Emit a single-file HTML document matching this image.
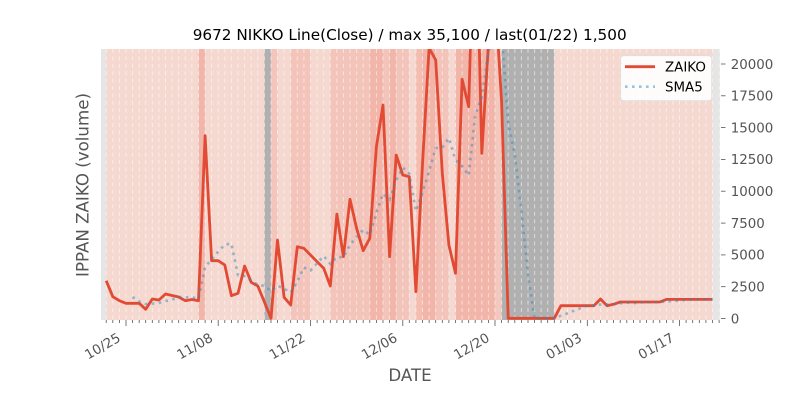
<!DOCTYPE html>
<html>
<head>
<meta charset="utf-8">
<style>
html,body{margin:0;padding:0;background:#fff;}
svg{display:block;}
text{font-family:"DejaVu Sans","Liberation Sans",sans-serif;}
</style>
</head>
<body>
<svg width="800" height="400" viewBox="0 0 800 400" xmlns="http://www.w3.org/2000/svg">
<defs>
<clipPath id="ax"><rect x="101" y="49" width="619" height="271"/></clipPath>
</defs>
<rect x="0" y="0" width="800" height="400" fill="#ffffff"/>
<!-- axes background -->
<rect x="101" y="49" width="619" height="271" fill="#e5e5e5"/>
<!-- day spans -->
<g>
<rect x="106.2" y="49" width="92.3" height="271" fill="#f5d8d0"/>
<rect x="198.5" y="49" width="6.6" height="271" fill="#f2b5aa"/>
<rect x="205.1" y="49" width="59.3" height="271" fill="#f5d8d0"/>
<rect x="264.4" y="49" width="6.6" height="271" fill="#b0b0b0"/>
<rect x="271.0" y="49" width="6.5" height="271" fill="#f3c5bb"/>
<rect x="277.5" y="49" width="13.2" height="271" fill="#f5d8d0"/>
<rect x="290.7" y="49" width="19.8" height="271" fill="#f3c4ba"/>
<rect x="310.5" y="49" width="19.8" height="271" fill="#f5d8d0"/>
<rect x="330.3" y="49" width="39.5" height="271" fill="#f3c4ba"/>
<rect x="369.8" y="49" width="13.2" height="271" fill="#f2b5aa"/>
<rect x="383.0" y="49" width="6.6" height="271" fill="#f3c4ba"/>
<rect x="389.6" y="49" width="6.6" height="271" fill="#f2b5aa"/>
<rect x="396.2" y="49" width="13.1" height="271" fill="#f3c4ba"/>
<rect x="409.3" y="49" width="6.6" height="271" fill="#f5d8d0"/>
<rect x="415.9" y="49" width="6.6" height="271" fill="#f3bdb2"/>
<rect x="422.5" y="49" width="13.2" height="271" fill="#f2b5aa"/>
<rect x="435.7" y="49" width="13.2" height="271" fill="#f3c4ba"/>
<rect x="448.9" y="49" width="6.6" height="271" fill="#f5d8d0"/>
<rect x="455.5" y="49" width="39.5" height="271" fill="#f2b5aa"/>
<rect x="495.0" y="49" width="6.6" height="271" fill="#f3c8be"/>
<rect x="501.6" y="49" width="52.7" height="271" fill="#b0b0b0"/>
<rect x="554.3" y="49" width="158.2" height="271" fill="#f5d8d0"/>
</g>
<!-- vertical dashed gridlines (daily) -->
<g stroke="#ffffff" stroke-opacity="0.55" stroke-width="1" stroke-dasharray="4 3.4">
<line x1="106.2" y1="49" x2="106.2" y2="320"/><line x1="112.8" y1="49" x2="112.8" y2="320"/><line x1="119.4" y1="49" x2="119.4" y2="320"/><line x1="126.0" y1="49" x2="126.0" y2="320"/><line x1="132.6" y1="49" x2="132.6" y2="320"/><line x1="139.2" y1="49" x2="139.2" y2="320"/><line x1="145.7" y1="49" x2="145.7" y2="320"/><line x1="152.3" y1="49" x2="152.3" y2="320"/><line x1="158.9" y1="49" x2="158.9" y2="320"/><line x1="165.5" y1="49" x2="165.5" y2="320"/><line x1="172.1" y1="49" x2="172.1" y2="320"/><line x1="178.7" y1="49" x2="178.7" y2="320"/><line x1="185.3" y1="49" x2="185.3" y2="320"/><line x1="191.9" y1="49" x2="191.9" y2="320"/><line x1="198.5" y1="49" x2="198.5" y2="320"/><line x1="205.1" y1="49" x2="205.1" y2="320"/><line x1="211.6" y1="49" x2="211.6" y2="320"/><line x1="218.2" y1="49" x2="218.2" y2="320"/><line x1="224.8" y1="49" x2="224.8" y2="320"/><line x1="231.4" y1="49" x2="231.4" y2="320"/><line x1="238.0" y1="49" x2="238.0" y2="320"/><line x1="244.6" y1="49" x2="244.6" y2="320"/><line x1="251.2" y1="49" x2="251.2" y2="320"/><line x1="257.8" y1="49" x2="257.8" y2="320"/><line x1="264.4" y1="49" x2="264.4" y2="320"/><line x1="271.0" y1="49" x2="271.0" y2="320"/><line x1="277.5" y1="49" x2="277.5" y2="320"/><line x1="284.1" y1="49" x2="284.1" y2="320"/><line x1="290.7" y1="49" x2="290.7" y2="320"/><line x1="297.3" y1="49" x2="297.3" y2="320"/><line x1="303.9" y1="49" x2="303.9" y2="320"/><line x1="310.5" y1="49" x2="310.5" y2="320"/><line x1="317.1" y1="49" x2="317.1" y2="320"/><line x1="323.7" y1="49" x2="323.7" y2="320"/><line x1="330.3" y1="49" x2="330.3" y2="320"/><line x1="336.9" y1="49" x2="336.9" y2="320"/><line x1="343.4" y1="49" x2="343.4" y2="320"/><line x1="350.0" y1="49" x2="350.0" y2="320"/><line x1="356.6" y1="49" x2="356.6" y2="320"/><line x1="363.2" y1="49" x2="363.2" y2="320"/><line x1="369.8" y1="49" x2="369.8" y2="320"/><line x1="376.4" y1="49" x2="376.4" y2="320"/><line x1="383.0" y1="49" x2="383.0" y2="320"/><line x1="389.6" y1="49" x2="389.6" y2="320"/><line x1="396.2" y1="49" x2="396.2" y2="320"/><line x1="402.8" y1="49" x2="402.8" y2="320"/><line x1="409.3" y1="49" x2="409.3" y2="320"/><line x1="415.9" y1="49" x2="415.9" y2="320"/><line x1="422.5" y1="49" x2="422.5" y2="320"/><line x1="429.1" y1="49" x2="429.1" y2="320"/><line x1="435.7" y1="49" x2="435.7" y2="320"/><line x1="442.3" y1="49" x2="442.3" y2="320"/><line x1="448.9" y1="49" x2="448.9" y2="320"/><line x1="455.5" y1="49" x2="455.5" y2="320"/><line x1="462.1" y1="49" x2="462.1" y2="320"/><line x1="468.7" y1="49" x2="468.7" y2="320"/><line x1="475.2" y1="49" x2="475.2" y2="320"/><line x1="481.8" y1="49" x2="481.8" y2="320"/><line x1="488.4" y1="49" x2="488.4" y2="320"/><line x1="495.0" y1="49" x2="495.0" y2="320"/><line x1="501.6" y1="49" x2="501.6" y2="320"/><line x1="508.2" y1="49" x2="508.2" y2="320"/><line x1="514.8" y1="49" x2="514.8" y2="320"/><line x1="521.4" y1="49" x2="521.4" y2="320"/><line x1="528.0" y1="49" x2="528.0" y2="320"/><line x1="534.6" y1="49" x2="534.6" y2="320"/><line x1="541.1" y1="49" x2="541.1" y2="320"/><line x1="547.7" y1="49" x2="547.7" y2="320"/><line x1="554.3" y1="49" x2="554.3" y2="320"/><line x1="560.9" y1="49" x2="560.9" y2="320"/><line x1="567.5" y1="49" x2="567.5" y2="320"/><line x1="574.1" y1="49" x2="574.1" y2="320"/><line x1="580.7" y1="49" x2="580.7" y2="320"/><line x1="587.3" y1="49" x2="587.3" y2="320"/><line x1="593.9" y1="49" x2="593.9" y2="320"/><line x1="600.5" y1="49" x2="600.5" y2="320"/><line x1="607.0" y1="49" x2="607.0" y2="320"/><line x1="613.6" y1="49" x2="613.6" y2="320"/><line x1="620.2" y1="49" x2="620.2" y2="320"/><line x1="626.8" y1="49" x2="626.8" y2="320"/><line x1="633.4" y1="49" x2="633.4" y2="320"/><line x1="640.0" y1="49" x2="640.0" y2="320"/><line x1="646.6" y1="49" x2="646.6" y2="320"/><line x1="653.2" y1="49" x2="653.2" y2="320"/><line x1="659.8" y1="49" x2="659.8" y2="320"/><line x1="666.4" y1="49" x2="666.4" y2="320"/><line x1="673.0" y1="49" x2="673.0" y2="320"/><line x1="679.5" y1="49" x2="679.5" y2="320"/><line x1="686.1" y1="49" x2="686.1" y2="320"/><line x1="692.7" y1="49" x2="692.7" y2="320"/><line x1="699.3" y1="49" x2="699.3" y2="320"/><line x1="705.9" y1="49" x2="705.9" y2="320"/><line x1="712.5" y1="49" x2="712.5" y2="320"/><line x1="719.1" y1="49" x2="719.1" y2="320"/>
</g>
<!-- series -->
<g clip-path="url(#ax)">
<polyline fill="none" stroke="#E24A33" stroke-width="2.8" stroke-linejoin="round" stroke-linecap="butt" points="106.2,280.7 112.8,296.7 119.4,300.7 126.0,303.3 132.6,303.3 139.2,303.3 145.7,309.3 152.3,299 158.9,300 165.5,294 172.1,295.5 178.7,297 185.3,300.7 191.9,299.5 198.5,300.7 205.1,135.7 211.6,260.7 218.2,260.7 224.8,265 231.4,295.7 238.0,293.3 244.6,266 251.2,282.3 257.8,286 264.4,302 271.0,318.3 277.5,240 284.1,297.3 290.7,305 297.3,246.7 303.9,248.3 310.5,255 317.1,261.7 323.7,268.3 330.3,286 336.9,214 343.4,256.7 350.0,199.3 356.6,228.3 363.2,250.7 369.8,238.3 376.4,146.7 383.0,105 389.6,256.7 396.2,155 402.8,175 409.3,176.7 415.9,291.7 422.5,164 429.1,48 435.7,60 442.3,173.3 448.9,245 455.5,273.3 462.1,79.3 468.7,106.7 475.2,-128 481.8,153.3 488.4,45 495.0,-7 501.6,102 508.2,318.3 514.8,318.3 521.4,318.3 528.0,318.3 534.6,318.3 541.1,318.3 547.7,318.3 554.3,318.3 560.9,305.7 567.5,305.7 574.1,305.7 580.7,305.7 587.3,305.7 593.9,305.7 600.5,299 607.0,305.7 613.6,304.3 620.2,302 626.8,302 633.4,302 640.0,302 646.6,302 653.2,302 659.8,302 666.4,299.4 673.0,299.4 679.5,299.4 686.1,299.4 692.7,299.4 699.3,299.4 705.9,299.4 712.5,299.4"/>
<polyline fill="none" stroke="#348ABD" stroke-opacity="0.5" stroke-width="2.6" stroke-dasharray="2.6 4.4" points="132.6,296.9 139.2,301.5 145.7,304.0 152.3,303.6 158.9,303.0 165.5,301.1 172.1,299.6 178.7,297.1 185.3,297.4 191.9,297.3 198.5,298.7 205.1,266.7 211.6,259.5 218.2,251.5 224.8,244.6 231.4,243.6 238.0,275.1 244.6,276.1 251.2,280.5 257.8,284.7 264.4,285.9 271.0,290.9 277.5,285.7 284.1,288.7 290.7,292.5 297.3,281.5 303.9,267.5 310.5,270.5 317.1,263.3 323.7,256 330.3,263.9 336.9,257 343.4,257.3 350.0,244.9 356.6,236.9 363.2,229.8 369.8,234.7 376.4,212.7 383.0,193.8 389.6,199.5 396.2,180.3 402.8,167.7 409.3,173.7 415.9,211.0 422.5,192.5 429.1,171.1 435.7,148.1 442.3,147.4 448.9,138.1 455.5,159.9 462.1,166.2 468.7,175.5 475.2,115.3 481.8,96.9 488.4,51.3 495.0,34 501.6,33.1 508.2,122.3 514.8,155.3 521.4,210 528.0,275 534.6,318.3 541.1,318.3 547.7,318.3 554.3,318.3 560.9,315.8 567.5,313.3 574.1,310.7 580.7,308.2 587.3,305.7 593.9,305.7 600.5,304.4 607.0,304.4 613.6,304.1 620.2,303.3 626.8,302.6 633.4,303.2 640.0,302.5 646.6,302 653.2,302 659.8,302 666.4,301.5 673.0,301.0 679.5,300.4 686.1,299.9 692.7,299.4 699.3,299.4 705.9,299.4 712.5,299.4"/>
</g>
<!-- legend -->
<rect x="620.7" y="55.7" width="91" height="45" rx="3" ry="3" fill="#ffffff" fill-opacity="0.9" stroke="#dddddd" stroke-width="0.8"/>
<line x1="625" y1="66.7" x2="655" y2="66.7" stroke="#E24A33" stroke-width="2.8"/>
<line x1="625" y1="86.7" x2="655" y2="86.7" stroke="#348ABD" stroke-opacity="0.5" stroke-width="2.6" stroke-dasharray="2.6 4.4"/>
<text x="665" y="71.5" font-size="13.4" fill="#000000">ZAIKO</text>
<text x="665" y="91.5" font-size="13.4" fill="#000000">SMA5</text>
<!-- x ticks -->
<g stroke="#555555" stroke-width="0.8">
<line x1="106.2" y1="320" x2="106.2" y2="323"/><line x1="112.8" y1="320" x2="112.8" y2="323"/><line x1="119.4" y1="320" x2="119.4" y2="323"/><line x1="132.6" y1="320" x2="132.6" y2="323"/><line x1="139.2" y1="320" x2="139.2" y2="323"/><line x1="145.7" y1="320" x2="145.7" y2="323"/><line x1="152.3" y1="320" x2="152.3" y2="323"/><line x1="158.9" y1="320" x2="158.9" y2="323"/><line x1="165.5" y1="320" x2="165.5" y2="323"/><line x1="172.1" y1="320" x2="172.1" y2="323"/><line x1="178.7" y1="320" x2="178.7" y2="323"/><line x1="185.3" y1="320" x2="185.3" y2="323"/><line x1="191.9" y1="320" x2="191.9" y2="323"/><line x1="198.5" y1="320" x2="198.5" y2="323"/><line x1="205.1" y1="320" x2="205.1" y2="323"/><line x1="211.6" y1="320" x2="211.6" y2="323"/><line x1="224.8" y1="320" x2="224.8" y2="323"/><line x1="231.4" y1="320" x2="231.4" y2="323"/><line x1="238.0" y1="320" x2="238.0" y2="323"/><line x1="244.6" y1="320" x2="244.6" y2="323"/><line x1="251.2" y1="320" x2="251.2" y2="323"/><line x1="257.8" y1="320" x2="257.8" y2="323"/><line x1="264.4" y1="320" x2="264.4" y2="323"/><line x1="271.0" y1="320" x2="271.0" y2="323"/><line x1="277.5" y1="320" x2="277.5" y2="323"/><line x1="284.1" y1="320" x2="284.1" y2="323"/><line x1="290.7" y1="320" x2="290.7" y2="323"/><line x1="297.3" y1="320" x2="297.3" y2="323"/><line x1="303.9" y1="320" x2="303.9" y2="323"/><line x1="317.1" y1="320" x2="317.1" y2="323"/><line x1="323.7" y1="320" x2="323.7" y2="323"/><line x1="330.3" y1="320" x2="330.3" y2="323"/><line x1="336.9" y1="320" x2="336.9" y2="323"/><line x1="343.4" y1="320" x2="343.4" y2="323"/><line x1="350.0" y1="320" x2="350.0" y2="323"/><line x1="356.6" y1="320" x2="356.6" y2="323"/><line x1="363.2" y1="320" x2="363.2" y2="323"/><line x1="369.8" y1="320" x2="369.8" y2="323"/><line x1="376.4" y1="320" x2="376.4" y2="323"/><line x1="383.0" y1="320" x2="383.0" y2="323"/><line x1="389.6" y1="320" x2="389.6" y2="323"/><line x1="396.2" y1="320" x2="396.2" y2="323"/><line x1="409.3" y1="320" x2="409.3" y2="323"/><line x1="415.9" y1="320" x2="415.9" y2="323"/><line x1="422.5" y1="320" x2="422.5" y2="323"/><line x1="429.1" y1="320" x2="429.1" y2="323"/><line x1="435.7" y1="320" x2="435.7" y2="323"/><line x1="442.3" y1="320" x2="442.3" y2="323"/><line x1="448.9" y1="320" x2="448.9" y2="323"/><line x1="455.5" y1="320" x2="455.5" y2="323"/><line x1="462.1" y1="320" x2="462.1" y2="323"/><line x1="468.7" y1="320" x2="468.7" y2="323"/><line x1="475.2" y1="320" x2="475.2" y2="323"/><line x1="481.8" y1="320" x2="481.8" y2="323"/><line x1="488.4" y1="320" x2="488.4" y2="323"/><line x1="501.6" y1="320" x2="501.6" y2="323"/><line x1="508.2" y1="320" x2="508.2" y2="323"/><line x1="514.8" y1="320" x2="514.8" y2="323"/><line x1="521.4" y1="320" x2="521.4" y2="323"/><line x1="528.0" y1="320" x2="528.0" y2="323"/><line x1="534.6" y1="320" x2="534.6" y2="323"/><line x1="541.1" y1="320" x2="541.1" y2="323"/><line x1="547.7" y1="320" x2="547.7" y2="323"/><line x1="554.3" y1="320" x2="554.3" y2="323"/><line x1="560.9" y1="320" x2="560.9" y2="323"/><line x1="567.5" y1="320" x2="567.5" y2="323"/><line x1="574.1" y1="320" x2="574.1" y2="323"/><line x1="580.7" y1="320" x2="580.7" y2="323"/><line x1="593.9" y1="320" x2="593.9" y2="323"/><line x1="600.5" y1="320" x2="600.5" y2="323"/><line x1="607.0" y1="320" x2="607.0" y2="323"/><line x1="613.6" y1="320" x2="613.6" y2="323"/><line x1="620.2" y1="320" x2="620.2" y2="323"/><line x1="626.8" y1="320" x2="626.8" y2="323"/><line x1="633.4" y1="320" x2="633.4" y2="323"/><line x1="640.0" y1="320" x2="640.0" y2="323"/><line x1="646.6" y1="320" x2="646.6" y2="323"/><line x1="653.2" y1="320" x2="653.2" y2="323"/><line x1="659.8" y1="320" x2="659.8" y2="323"/><line x1="666.4" y1="320" x2="666.4" y2="323"/><line x1="673.0" y1="320" x2="673.0" y2="323"/><line x1="686.1" y1="320" x2="686.1" y2="323"/><line x1="692.7" y1="320" x2="692.7" y2="323"/><line x1="699.3" y1="320" x2="699.3" y2="323"/><line x1="705.9" y1="320" x2="705.9" y2="323"/><line x1="712.5" y1="320" x2="712.5" y2="323"/><line x1="719.1" y1="320" x2="719.1" y2="323"/>
<line x1="126.0" y1="320" x2="126.0" y2="326"/><line x1="218.2" y1="320" x2="218.2" y2="326"/><line x1="310.5" y1="320" x2="310.5" y2="326"/><line x1="402.8" y1="320" x2="402.8" y2="326"/><line x1="495.0" y1="320" x2="495.0" y2="326"/><line x1="587.3" y1="320" x2="587.3" y2="326"/><line x1="679.5" y1="320" x2="679.5" y2="326"/>
</g>
<g font-size="13.4" fill="#555555" text-anchor="end">
<text transform="translate(121.5,340.5) rotate(-30)">10/25</text>
<text transform="translate(213.7,340.5) rotate(-30)">11/08</text>
<text transform="translate(306,340.5) rotate(-30)">11/22</text>
<text transform="translate(398.3,340.5) rotate(-30)">12/06</text>
<text transform="translate(490.5,340.5) rotate(-30)">12/20</text>
<text transform="translate(582.8,340.5) rotate(-30)">01/03</text>
<text transform="translate(675,340.5) rotate(-30)">01/17</text>
</g>
<!-- y ticks (right) -->
<g stroke="#555555" stroke-width="0.8">
<line x1="721" y1="318.5" x2="725.5" y2="318.5"/>
<line x1="721" y1="286.7" x2="725.5" y2="286.7"/>
<line x1="721" y1="254.9" x2="725.5" y2="254.9"/>
<line x1="721" y1="223.1" x2="725.5" y2="223.1"/>
<line x1="721" y1="191.2" x2="725.5" y2="191.2"/>
<line x1="721" y1="159.4" x2="725.5" y2="159.4"/>
<line x1="721" y1="127.6" x2="725.5" y2="127.6"/>
<line x1="721" y1="95.8" x2="725.5" y2="95.8"/>
<line x1="721" y1="64.0" x2="725.5" y2="64.0"/>
</g>
<g font-size="13.4" fill="#555555">
<text x="730.7" y="323.3">0</text>
<text x="730.7" y="291.5">2500</text>
<text x="730.7" y="259.7">5000</text>
<text x="730.7" y="227.9">7500</text>
<text x="730.7" y="196.0">10000</text>
<text x="730.7" y="164.2">12500</text>
<text x="730.7" y="132.4">15000</text>
<text x="730.7" y="100.6">17500</text>
<text x="730.7" y="68.8">20000</text>
</g>
<!-- labels -->
<text x="192.7" y="40" font-size="15.3" fill="#000000" textLength="434" lengthAdjust="spacingAndGlyphs">9672 NIKKO Line(Close) / max 35,100 / last(01/22) 1,500</text>
<text x="410" y="381" font-size="16.67" fill="#555555" text-anchor="middle">DATE</text>
<text transform="translate(88.5,185) rotate(-90)" font-size="16.67" fill="#555555" text-anchor="middle">IPPAN ZAIKO (volume)</text>
</svg>
</body>
</html>
